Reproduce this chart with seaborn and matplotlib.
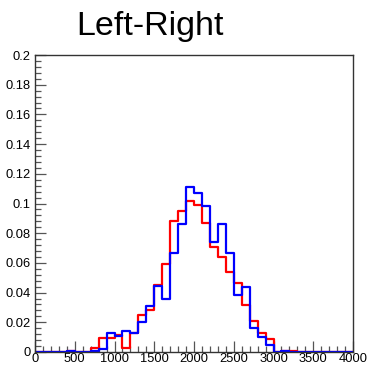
import numpy as np
import pandas as pd
import matplotlib
matplotlib.use("Agg")
import matplotlib.pyplot as plt
import seaborn as sns
from matplotlib.ticker import MultipleLocator, FuncFormatter

# ---- data (normalized histograms, 40 bins of width 100 from 0 to 4000) ----
bin_edges = list(range(0, 4001, 100))
red_values = [0, 0, 0, 0, 0.0007, 0, 0, 0.0029, 0.0096, 0.0096,
              0.0115, 0.0025, 0.0130, 0.0249, 0.0283, 0.0451, 0.0590, 0.0884, 0.0952, 0.1019,
              0.0990, 0.0871, 0.0709, 0.0642, 0.0541, 0.0467, 0.0316, 0.0211, 0.0130, 0.0088,
              0, 0.0010, 0.0010, 0, 0, 0, 0, 0, 0, 0]
blue_values = [0, 0, 0, 0, 0.0007, 0, 0, 0.0010, 0.0020, 0.0130,
               0.0108, 0.0144, 0.0130, 0.0204, 0.0310, 0.0442, 0.0355, 0.0664, 0.0860, 0.1113,
               0.1068, 0.0983, 0.0743, 0.0860, 0.0669, 0.0384, 0.0440, 0.0159, 0.0103, 0.0047,
               0, 0.0010, 0, 0, 0, 0, 0, 0, 0, 0]
title = "Left-Right"

sns.set_style("white")
plt.rcParams['font.family'] = ['Liberation Sans', 'DejaVu Sans']

edges = [float(e) for e in bin_edges]
centers = [(a + b) / 2 for a, b in zip(edges[:-1], edges[1:])]
df = pd.DataFrame({"x": centers + centers,
                   "w": red_values + blue_values,
                   "series": ["red"] * len(centers) + ["blue"] * len(centers)})

fig = plt.figure(figsize=(3.69, 3.65), dpi=100)
ax = fig.add_axes([35/369, 13/365, 318/369, 297/365])

for name, color in [("red", "#ff0000"), ("blue", "#0000ff")]:
    sub = df[df.series == name].reset_index(drop=True)
    sns.histplot(data=sub, x="x", weights="w", bins=edges, element="step",
                 fill=False, color=color, linewidth=1.6, ax=ax)

ax.set_xlim(0, 4000)
ax.set_ylim(0, 0.2)
ax.set_xlabel("")
ax.set_ylabel("")

ax.xaxis.set_major_locator(MultipleLocator(500))
ax.xaxis.set_minor_locator(MultipleLocator(100))
ax.yaxis.set_major_locator(MultipleLocator(0.02))
ax.yaxis.set_minor_locator(MultipleLocator(0.004))
ax.yaxis.set_major_formatter(FuncFormatter(lambda v, p: "%g" % round(v, 4)))
ax.xaxis.set_major_formatter(FuncFormatter(lambda v, p: "%g" % v))

ax.tick_params(axis="both", which="both", direction="in", color="#555555",
               labelsize=9.3, labelcolor="black")
ax.tick_params(axis="both", which="major", length=8, width=0.9)
ax.tick_params(axis="both", which="minor", length=4, width=0.9)
ax.tick_params(axis="x", which="both", top=False, bottom=True, pad=1)
ax.tick_params(axis="y", which="both", right=False, left=True, pad=3)

for s in ax.spines.values():
    s.set_visible(True)
    s.set_color("#333333")
    s.set_linewidth(1.0)

fig.text(150/369, 1 - 35/365, title, fontsize=24.5, ha="center", va="baseline",
         color="black")

fig.savefig("out.png", dpi=100)
